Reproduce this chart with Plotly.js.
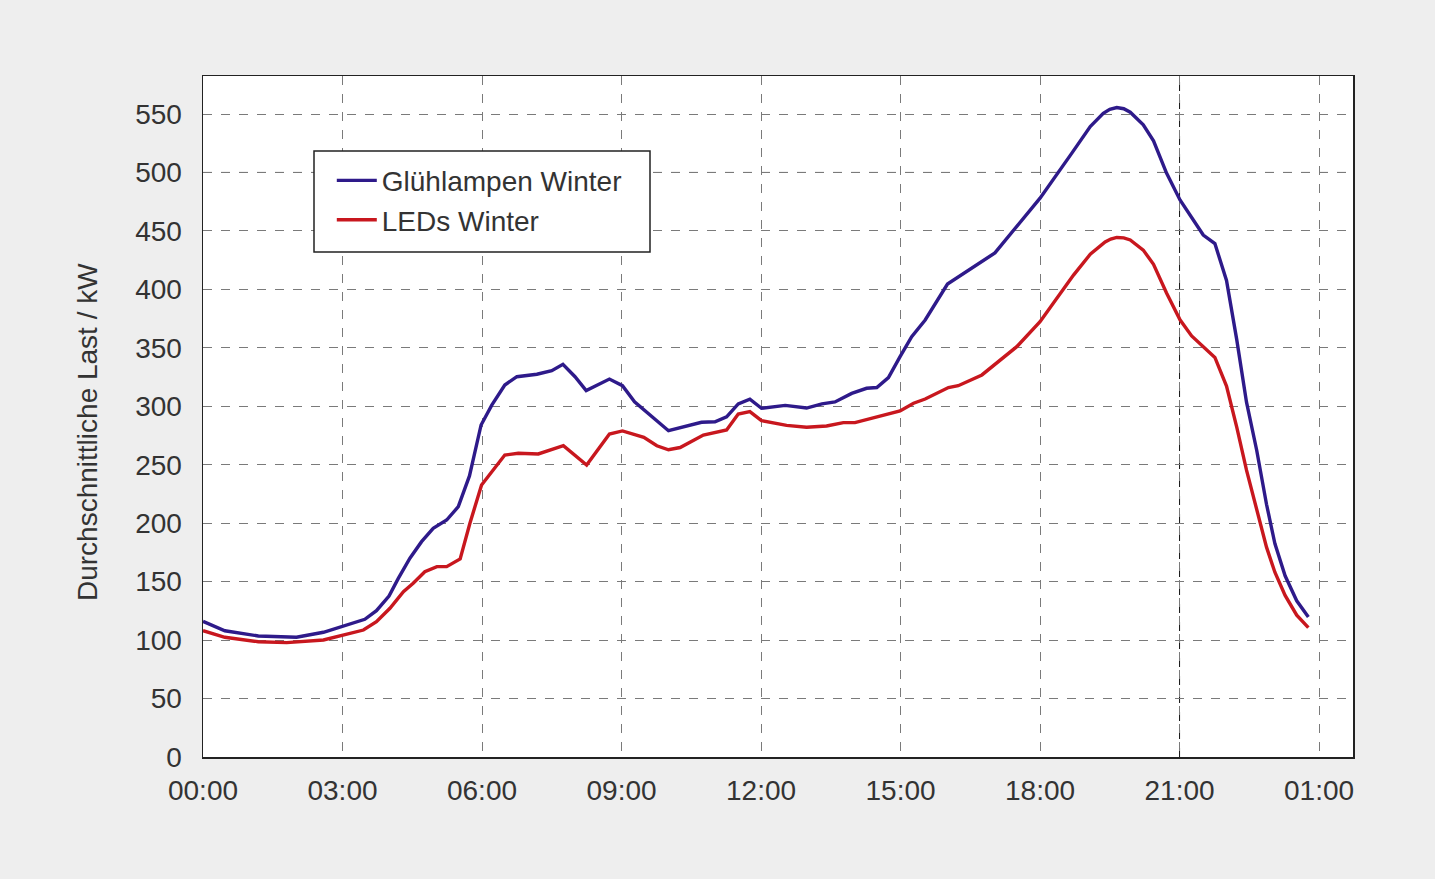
<!DOCTYPE html>
<html><head><meta charset="utf-8">
<script src="https://cdn.plot.ly/plotly-3.0.1.min.js"></script>
<style>html,body{margin:0;padding:0;background:#eeeeee;}#chart{width:1435px;height:879px;}</style>
</head><body><div id="chart"></div>
<script>
var seriesNames = ["Glühlampen Winter", "LEDs Winter"];
var yAxisTitle = "Durchschnittliche Last / kW";
var timeGluehlampen = [0,0.47,1.19,2.01,2.59,3.48,3.73,4.0,4.2,4.45,4.7,4.95,5.24,5.49,5.73,5.98,6.21,6.49,6.75,7.18,7.5,7.74,8.0,8.24,8.74,9.02,9.28,10.01,10.72,11.01,11.26,11.51,11.76,12.01,12.52,12.98,13.31,13.59,13.95,14.27,14.49,14.74,14.99,15.24,15.53,16.01,17.03,17.5,18.0,18.68,19.08,19.36,19.5,19.65,19.8,19.94,20.22,20.44,20.72,21.01,21.26,21.51,21.76,22.01,22.23,22.44,22.66,22.87,23.05,23.27,23.52,23.77];
var loadGluehlampen = [116,108,103.5,102.4,106.7,117.8,125.2,137.7,152.8,170,184.2,195.6,202.7,214.1,240.4,284,301,318.2,325.3,327.4,330.5,335.9,325.3,313.4,323.3,317.6,303.9,279.1,286.3,286.8,291,302,306,298.3,300.8,298.5,302,303.7,311,315.4,316,324.5,342.4,359.5,373.8,404.6,431.2,453.5,478,516.3,539.3,550.5,554,555.5,554.5,551.5,540.8,527,499.5,476.5,461.2,446.5,439.2,407.6,357,303.5,262.2,216.2,182.6,155,133.6,119.8];
var timeLEDs = [0,0.47,1.19,1.8,2.59,3.45,3.73,4.02,4.31,4.52,4.77,5.03,5.24,5.53,5.74,5.99,6.49,6.78,7.21,7.75,8.25,8.74,9.02,9.48,9.76,10.01,10.26,10.76,11.26,11.51,11.76,12.01,12.55,12.98,13.41,13.77,14.02,14.49,14.99,15.28,15.53,16.03,16.24,16.75,17.5,18.0,18.72,19.08,19.4,19.52,19.65,19.8,19.94,20.22,20.44,20.72,21.01,21.26,21.76,22.01,22.23,22.44,22.66,22.87,23.05,23.27,23.52,23.77];
var loadLEDs = [108,102.4,98.6,97.8,100.1,108.6,115.7,127.2,141.4,148.6,158.5,162.8,162.8,169.4,199.9,232.7,258.3,259.8,259.2,266.3,249.8,276.3,278.9,273.5,266.2,262.8,264.7,275.4,279.7,293.4,295.4,287.7,283.7,282,283.1,286,286,291.1,296,302.6,306.2,316,317.6,326.8,351,372.4,412.2,430,440.5,443,444.4,444,442.3,433.6,421.4,396.9,373.9,360.2,341.8,317.3,282.1,245.3,210.1,179.5,158.1,138.2,121.3,110.6];
var xTickVals = [0,3,6,9,12,15,18,21,24];
var xTickText = ["00:00","03:00","06:00","09:00","12:00","15:00","18:00","21:00","01:00"];
var yTickVals = [0,50,100,150,200,250,300,350,400,450,500,550];

var font = "Liberation Sans, Arial, sans-serif";
var fsize = 28;
var traces = [
  {x: timeGluehlampen, y: loadGluehlampen, name: seriesNames[0], type: "scatter", mode: "lines",
   legendgroup: "g1", line: {color: "#2e1a8a", width: 3.4}},
  {x: timeLEDs, y: loadLEDs, name: seriesNames[1], type: "scatter", mode: "lines",
   legendgroup: "g2", line: {color: "#c8171e", width: 3.4}}
];
var layout = {
  width: 1435, height: 879,
  paper_bgcolor: "#eeeeee", plot_bgcolor: "#ffffff",
  margin: {l: 203, r: 82, t: 76, b: 122, pad: 0},
  showlegend: true,
  legend: {x: 0.112, y: 0.883, xanchor: "left", yanchor: "top",
    bgcolor: "rgba(0,0,0,0)", borderwidth: 0,
    font: {family: font, size: fsize, color: "#333333"}, tracegroupgap: 0, itemwidth: 40},
  xaxis: {range: [0, 24.73], tickvals: xTickVals, ticktext: xTickText,
    showgrid: true, gridcolor: "#7a7a7a", griddash: "dash", gridwidth: 1,
    showline: true, linecolor: "#222222", linewidth: 1.5, mirror: true,
    ticks: "", zeroline: false, fixedrange: true, ticklabelstandoff: 8,
    tickfont: {family: font, size: fsize, color: "#333333"}},
  yaxis: {range: [0, 582.5], tickvals: yTickVals,
    showgrid: true, gridcolor: "#7a7a7a", griddash: "dash", gridwidth: 1,
    showline: true, linecolor: "#222222", linewidth: 1.5, mirror: true,
    ticks: "", zeroline: false, fixedrange: true, ticklabelstandoff: 14,
    tickfont: {family: font, size: fsize, color: "#333333"}},
  annotations: [
    {text: yAxisTitle, xref: "paper", yref: "paper", x: (87 - 203) / 1150, y: (757 - 432) / 681,
     xanchor: "center", yanchor: "middle", textangle: -90, showarrow: false,
     font: {family: font, size: fsize, color: "#333333"}}
  ],
  shapes: [
    {type: "line", xref: "paper", yref: "y", x0: 0, x1: 1, y0: 500, y1: 500,
     line: {color: "#111111", width: 1, dash: "dash"}, layer: "below"},
    {type: "line", xref: "x", yref: "paper", x0: 21, x1: 21, y0: 0, y1: 1,
     line: {color: "#111111", width: 1, dash: "dash"}, layer: "below"},
    {type: "rect", xref: "paper", yref: "paper",
     x0: (314 - 203) / 1150, x1: (650 - 203) / 1150,
     y0: (757 - 252) / 681, y1: (757 - 151) / 681,
     fillcolor: "#ffffff", line: {color: "#222222", width: 1.5}, layer: "above"}
  ]
};
Plotly.newPlot("chart", traces, layout, {displayModeBar: false, staticPlot: true});
</script></body></html>
